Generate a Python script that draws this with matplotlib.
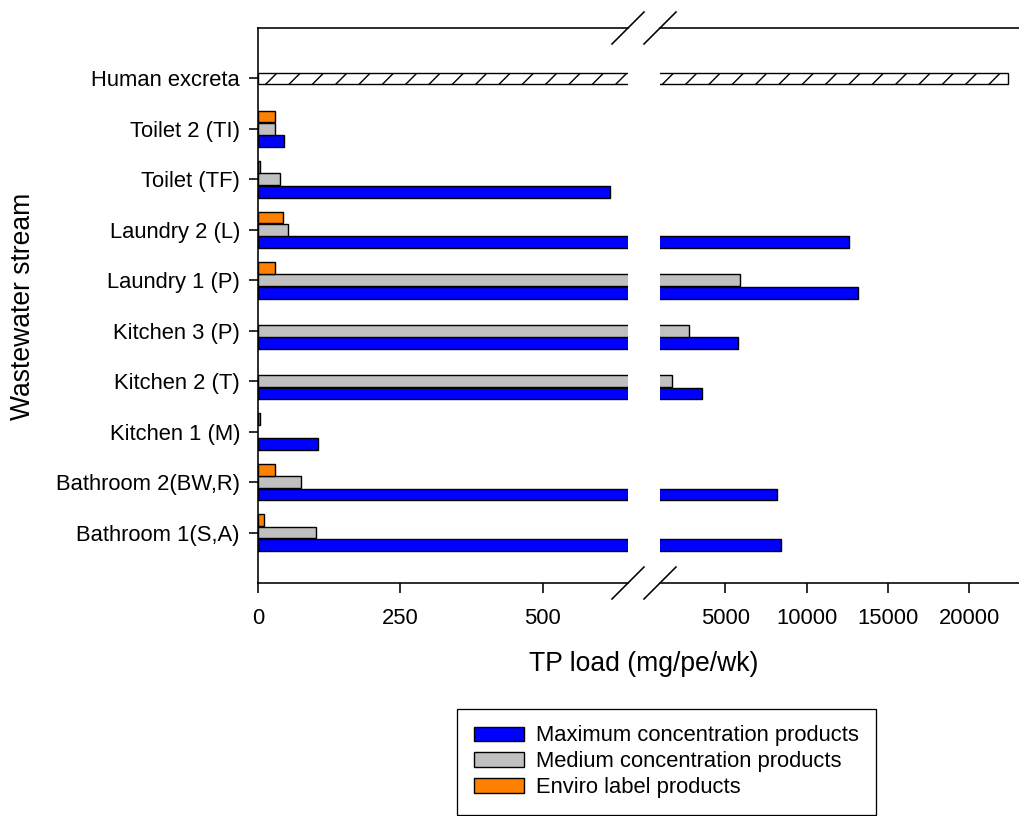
import numpy as np
import matplotlib
matplotlib.use("Agg")
import matplotlib.pyplot as plt
from matplotlib.patches import Patch
from matplotlib.lines import Line2D

# ---- data -------------------------------------------------------------
streams = ["Bathroom 1(S,A)", "Bathroom 2(BW,R)", "Kitchen 1 (M)", "Kitchen 2 (T)",
           "Kitchen 3 (P)", "Laundry 1 (P)", "Laundry 2 (L)", "Toilet (TF)",
           "Toilet 2 (TI)"]
max_conc = [8450, 8200, 106, 3550, 5800, 13150, 12600, 618, 46]
medium_conc = [102, 76, np.nan, 1750, 2800, 5900, 53, 38, 30]
enviro_label = [10, 30, 3, np.nan, np.nan, 30, 44, 3, 30]
excreta_label = "Human excreta"
excreta_load = 22400

series_labels = ["Maximum concentration products", "Medium concentration products",
                 "Enviro label products"]
left_ticks = [0, 250, 500]
right_ticks = [5000, 10000, 15000, 20000]

# ---- styling ------------------------------------------------------------
DPI = 140
W, H = 1019, 816


def pt(px):
    return px * 72.0 / DPI


def fx(px):
    return px / W


def fy(py):
    return 1 - py / H


plt.rcParams["font.family"] = ["Liberation Sans", "DejaVu Sans"]
plt.rcParams["hatch.linewidth"] = pt(1.4)
plt.rcParams["hatch.color"] = "black"

BLUE, GREY, ORANGE = "#0000FF", "#C0C0C0", "#FF8000"
EDGE_LW = pt(1.4)
SPINE_LW = pt(1.6)
TICK_FS = 22

fig = plt.figure(figsize=(W / DPI, H / DPI), dpi=DPI)
bottom, top = fy(583), fy(28)
ax_l = fig.add_axes([fx(258), bottom, fx(628) - fx(258), top - bottom])
ax_r = fig.add_axes([fx(660), bottom, 1 - fx(660), top - bottom])

y = np.arange(1, len(streams) + 1)
y_ex = len(streams) + 1
bar_h = 0.235
off = 0.245

for ax in (ax_l, ax_r):
    ax.barh(y - off, max_conc, height=bar_h, color=BLUE, edgecolor="black", linewidth=EDGE_LW)
    ax.barh(y, medium_conc, height=bar_h, color=GREY, edgecolor="black", linewidth=EDGE_LW)
    ax.barh(y + off, enviro_label, height=bar_h, color=ORANGE, edgecolor="black", linewidth=EDGE_LW)
    ax.barh(y_ex, excreta_load, height=bar_h, color="white", edgecolor="black",
            linewidth=EDGE_LW, hatch="//")
    ax.set_ylim(0, y_ex + 1)
    for s in ("top", "bottom"):
        ax.spines[s].set_linewidth(SPINE_LW)
    ax.tick_params(axis="x", direction="out", length=pt(9.5), width=SPINE_LW,
                   labelsize=pt(TICK_FS), pad=pt(16))

ax_l.set_xlim(0, 650)
ax_l.set_xticks(left_ticks)
ax_l.spines["right"].set_visible(False)
ax_l.spines["left"].set_linewidth(SPINE_LW)
ax_l.set_yticks(list(y) + [y_ex])
ax_l.set_yticklabels(streams + [excreta_label])
ax_l.tick_params(axis="y", direction="out", length=pt(9), width=SPINE_LW,
                 labelsize=pt(TICK_FS), pad=pt(9))

ax_r.set_xlim(1000, 23050)
ax_r.set_xticks(right_ticks)
ax_r.spines["left"].set_visible(False)
ax_r.spines["right"].set_visible(False)
ax_r.set_yticks([])

# break marks on the axis lines
lp = ax_l.get_position()
rp = ax_r.get_position()
dx, dy = 16 / W, 16 / H
for xe in (lp.x1, rp.x0):
    for ye in (lp.y0, lp.y1):
        fig.add_artist(Line2D([xe - dx, xe + dx], [ye - dy, ye + dy], color="black",
                              linewidth=SPINE_LW, transform=fig.transFigure))

fig.text(fx(644), fy(664), "TP load (mg/pe/wk)", ha="center", va="center", fontsize=pt(26.5))
fig.text(fx(23), fy(306), "Wastewater stream", ha="center", va="center", rotation=90,
         fontsize=pt(26.5))

handles = [Patch(facecolor=c, edgecolor="black", linewidth=EDGE_LW) for c in (BLUE, GREY, ORANGE)]
fs = TICK_FS
leg = fig.legend(handles, series_labels, loc="upper left",
                 bbox_to_anchor=(fx(457), fy(709)), bbox_transform=fig.transFigure,
                 fontsize=pt(fs), frameon=True, fancybox=False, shadow=False,
                 edgecolor="black", framealpha=1, borderaxespad=0,
                 handlelength=50 / fs, handleheight=14 / fs, handletextpad=13 / fs,
                 borderpad=0.75, labelspacing=0.22)
leg.get_frame().set_linewidth(pt(1.3))

fig.savefig("out.png", dpi=DPI)
